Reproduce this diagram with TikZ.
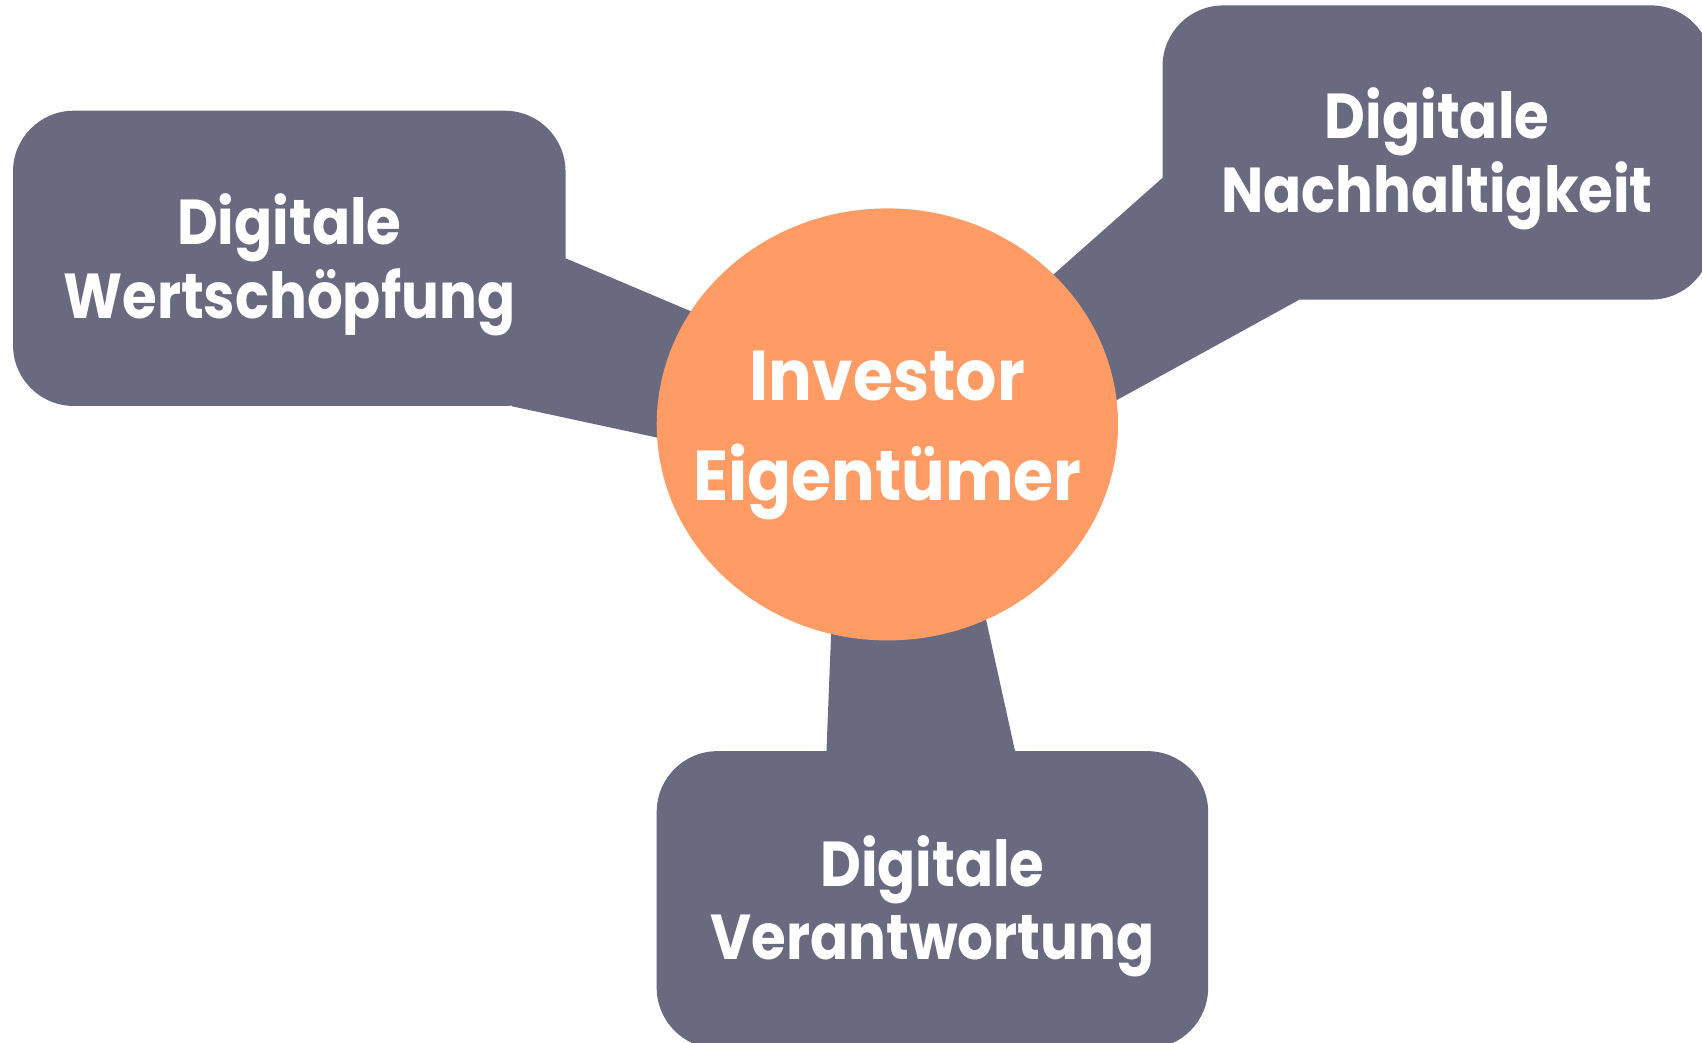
\documentclass[tikz,border=0pt]{standalone}
\usepackage{fontspec}
\setmainfont{Poppins}[FakeStretch=0.885]
\newfontfamily\hubfont{Poppins}[FakeStretch=0.92]
\usetikzlibrary{calc,shapes.geometric}
\definecolor{slate}{HTML}{696A80}
\definecolor{peach}{HTML}{FF9C66}
\begin{document}
\begin{tikzpicture}[x=1pt,y=-1pt,
  topic/.style={fill=slate, draw=none, rounded corners=56pt, inner sep=0pt},
  hub/.style={fill=peach, draw=none, ellipse, inner sep=0pt},
  link/.style={fill=slate, draw=none},
  boxtxt/.style={text=white, align=center, inner sep=0pt, font=\bfseries\fontsize{58.5}{68}\selectfont},
  hubtxt/.style={text=white, align=center, inner sep=0pt, font=\hubfont\bfseries\fontsize{65}{92}\selectfont}]
\useasboundingbox (0,0) rectangle (1568,960);
\clip (0,0) rectangle (1568,960);
% boxes
\node[topic, minimum width=509pt, minimum height=272pt] (wl) at (266.5,238) {};
\node[topic, minimum width=506pt, minimum height=271pt] (wn) at (1324,140.5) {};
\node[topic, minimum width=508pt, minimum height=274pt] (wv) at (859,829) {};
\coordinate (inv0) at (817.5,391);
% connectors
\coordinate (a1) at (wl.east);
\coordinate (a2) at ($(wl.south east)+(-50,0)$);
\coordinate (a1e) at ($(inv0)+(-116.7,-77)$);
\coordinate (a2e) at ($(inv0)+(-118.7,32.3)$);
\fill[link] (a1) -- (a1e) -- (a2e) -- (a2) -- cycle;
\coordinate (b1) at ($(wn.west)+(0,23.5)$);
\coordinate (b2) at ($(wn.south west)+(126,0)$);
\coordinate (b1e) at ($(inv0)+(52.5,-49)$);
\coordinate (b2e) at ($(inv0)+(77,51.5)$);
\fill[link] (b1) -- (b1e) -- (b2e) -- (b2) -- cycle;
\coordinate (c1) at ($(wv.north west)+(156.6,0)$);
\coordinate (c2) at ($(wv.north west)+(330.3,0)$);
\coordinate (c1e) at ($(inv0)+(-47.7,89)$);
\coordinate (c2e) at ($(inv0)+(70.9,89)$);
\fill[link] (c1) -- (c1e) -- (c2e) -- (c2) -- cycle;
% hub
\node[hub, minimum width=425pt, minimum height=398pt] (inv) at (inv0) {};
% texts
\node[boxtxt, yshift=-6pt] (tl) at (wl) {Digitale\\Wertschöpfung};
\node[boxtxt, yshift=-6pt] (tn) at (wn) {Digitale\\Nachhaltigkeit};
\node[boxtxt, yshift=-6pt] (tv) at (wv) {Digitale\\Verantwortung};
\node[hubtxt, yshift=-10.5pt] (ti) at (inv) {Investor\\Eigentümer};
\end{tikzpicture}
\end{document}
